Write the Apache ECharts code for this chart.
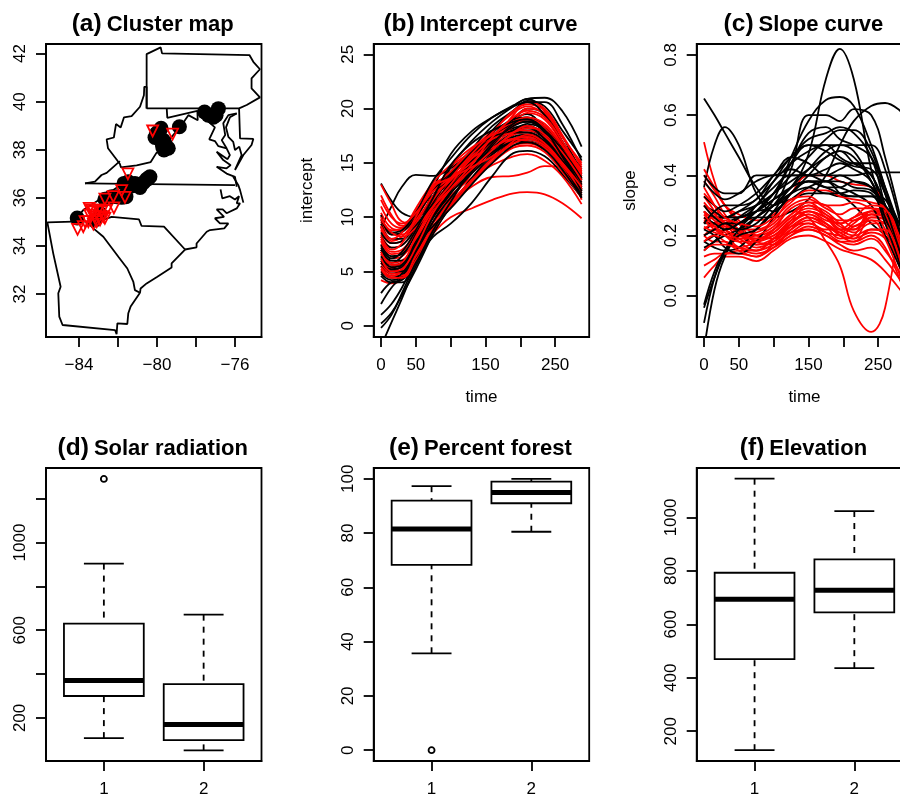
<!DOCTYPE html>
<html><head><meta charset="utf-8">
<script src="https://cdn.jsdelivr.net/npm/echarts@6/dist/echarts.min.js"></script>
<style>html,body{margin:0;padding:0;background:#fff}#c{width:900px;height:796px}</style>
</head><body><div id="c"></div>
<script>
// ---------- (a) map: state outlines, lon/lat ----------
const paBorder=[[-80.53,39.72],[-80.53,41.98],[-79.81,42.26],[-79.74,42.01],[-75.26,41.94],[-75.06,41.66],[-74.72,41.35],[-75.15,40.97],[-75.15,40.55],[-74.72,40.18],[-75.40,39.86],[-75.79,39.72],[-80.53,39.72]];
const wvBorder=[[-80.53,39.72],[-80.53,40.62],[-80.65,40.62],[-80.67,40.27],[-80.87,39.79],[-81.30,39.40],[-81.69,39.35],[-81.86,38.93],[-82.10,39.07],[-82.21,38.51],[-82.58,38.43],[-82.51,38.06],[-82.15,37.68],[-81.90,37.41],[-81.85,37.27],[-81.04,37.35],[-80.32,37.49],[-80.02,37.88],[-79.54,38.13],[-79.25,38.54],[-78.82,38.93],[-78.39,39.44],[-77.91,39.23],[-77.93,39.62],[-79.47,39.33],[-79.50,39.72]];
const vaKyBorder=[[-81.90,37.53],[-82.58,37.04],[-82.84,36.95],[-83.18,36.67],[-83.69,36.60]];
const vaNcBorder=[[-83.69,36.60],[-76.00,36.53]];
const potomac=[[-77.93,39.62],[-77.45,39.23],[-77.03,38.93],[-77.32,38.43],[-77.03,38.36],[-76.85,38.15],[-76.43,38.06],[-76.26,37.78],[-76.38,37.61],[-76.94,37.92],[-76.60,37.57],[-76.22,37.36],[-76.43,37.23],[-76.94,37.29],[-76.43,37.01],[-76.00,36.87],[-75.91,36.46]];
const delmarva=[[-75.91,39.51],[-76.26,39.35],[-76.46,38.93],[-76.34,38.54],[-76.09,38.33],[-76.00,37.99],[-75.78,38.13],[-75.66,37.78],[-76.00,37.16],[-75.57,37.78],[-75.15,38.20],[-75.06,38.45],[-75.74,38.47],[-75.79,39.72]];
const mdWestShore=[[-75.91,39.51],[-76.34,39.44],[-76.60,39.10],[-76.50,38.61],[-76.68,38.40],[-76.43,38.06]];
const outerBanks=[[-76.09,36.88],[-75.83,36.53],[-75.74,36.32],[-75.57,35.80]];
const ncCoast=[[-76.74,36.35],[-76.65,35.98],[-76.26,36.07],[-76.00,35.93],[-75.79,36.07],[-75.91,35.77],[-75.74,35.77],[-75.91,35.56],[-76.43,35.36],[-76.63,35.52],[-76.94,35.52],[-76.56,35.21],[-77.03,35.15],[-76.77,34.94],[-76.34,34.94],[-76.55,34.73],[-77.28,34.66],[-77.45,34.59],[-77.97,34.10],[-77.97,33.94],[-78.56,33.85]];
const scCoast=[[-78.56,33.85],[-79.25,33.27],[-79.25,33.10],[-79.98,32.72],[-80.53,32.44],[-80.84,32.23],[-80.87,32.05]];
const ncScBorder=[[-78.56,33.85],[-79.64,34.80],[-80.79,34.83],[-80.92,35.10],[-82.32,35.21],[-83.10,35.00]];
const scGaBorder=[[-83.61,35.01],[-83.26,34.73],[-82.75,34.38],[-81.98,33.55],[-81.52,33.06],[-81.21,32.50],[-81.13,32.16],[-80.87,32.05]];
const gaBorder=[[-83.61,35.01],[-84.29,35.01],[-85.62,34.98],[-85.32,33.69],[-84.94,32.30],[-85.06,32.03],[-85.01,31.06],[-84.84,30.71],[-82.15,30.50],[-82.07,30.33],[-82.03,30.78],[-81.52,30.75],[-81.47,31.20],[-81.35,31.48],[-80.87,32.05]];
const ncWest=[[-84.29,35.01],[-83.78,35.49],[-82.92,35.94],[-81.81,36.57]];
const mapLines=[paBorder,wvBorder,vaKyBorder,vaNcBorder,potomac,delmarva,mdWestShore,outerBanks,ncCoast,scCoast,ncScBorder,scGaBorder,gaBorder,ncWest];
// sites by cluster
const cluster1Sites=[[-77.56,39.57],[-77.37,39.44],[-77.11,39.35],[-76.97,39.44],[-76.85,39.71],[-78.85,38.96],[-79.79,38.89],[-80.02,38.68],[-80.10,38.51],[-79.88,38.54],[-79.93,38.75],[-79.68,38.40],[-79.59,38.26],[-79.76,38.33],[-79.71,38.13],[-79.42,38.06],[-79.64,37.99],[-81.69,36.60],[-81.47,36.67],[-81.30,36.49],[-81.13,36.60],[-80.87,36.43],[-80.70,36.63],[-80.53,36.77],[-80.36,36.88],[-80.44,36.81],[-81.04,36.53],[-81.59,36.05],[-81.81,36.02],[-82.07,36.05],[-82.32,36.05],[-82.67,35.94],[-84.09,35.16],[-83.18,35.08],[-82.92,35.35]];
const cluster2Sites=[[-80.22,38.78],[-79.20,38.65],[-81.49,37.00],[-81.81,36.30],[-81.64,36.02],[-82.24,36.05],[-82.67,35.95],[-82.21,35.58],[-83.47,35.56],[-83.26,35.42],[-83.35,35.49],[-83.01,35.49],[-82.58,35.49],[-82.84,35.42],[-83.18,35.22],[-83.44,35.28],[-82.75,35.22],[-82.92,35.08],[-83.26,34.91],[-83.52,35.01],[-83.78,34.80],[-84.07,34.69],[-83.09,35.01],[-82.67,35.15],[-83.69,35.01]];

// ---------- (b) intercept curves ----------
const interceptTimes=[0,15,30,50,75,100,130,160,190,210,235,260,288];
const interceptBlack=[
[13.1,11.5,10.4,10.0,11.8,13.8,15.5,17.0,18.5,19.0,18.0,16.0,12.5],
[9.0,11.0,12.8,13.9,13.8,14.5,16.0,17.5,19.0,19.5,18.0,16.0,13.0],
[5.2,5.0,5.6,8.0,12.6,15.8,17.9,19.2,20.3,20.9,21.0,19.8,16.5],
[-1.9,0.3,2.5,5.5,8.5,11.0,13.5,15.5,17.0,17.5,16.8,15.0,12.0],
[0.2,1.2,2.8,5.2,8.5,11.5,14.5,17.0,19.0,20.0,19.5,17.0,13.5],
[-0.2,1.0,3.0,6.0,11.0,14.6,17.0,18.8,20.2,20.9,19.8,17.5,14.0],
[1.0,2.0,3.5,6.0,8.2,9.4,11.3,13.8,15.9,16.1,15.6,14.0,11.8],
[2.0,3.5,4.5,6.2,10.2,13.6,16.2,18.4,19.8,20.7,20.2,18.0,15.5],
[3.0,4.0,4.2,5.8,8.6,11.0,13.6,15.8,17.6,18.0,17.2,15.4,12.6],
[4.8,4.2,4.6,6.6,9.6,12.2,14.6,16.4,17.8,18.2,17.4,15.6,13.0],
[5.5,4.8,5.2,7.2,10.2,12.6,15.0,16.8,18.2,18.4,17.6,15.8,12.8],
[6.2,5.6,5.8,7.8,10.6,13.0,15.2,17.0,18.0,18.6,18.0,16.2,13.4],
[6.8,5.8,6.4,8.4,11.0,13.2,15.4,17.0,18.4,18.8,18.2,16.4,13.6],
[7.5,6.4,6.6,8.6,11.4,13.6,15.8,17.2,18.0,18.2,17.2,15.2,12.2],
[8.2,7.2,7.4,9.0,11.6,13.8,16.0,17.6,18.6,18.8,17.8,15.8,12.6],
[9.4,8.0,8.0,9.4,12.0,14.0,16.2,17.4,17.8,17.8,17.0,15.0,11.8],
[10.2,8.4,8.6,10.0,12.4,14.2,16.0,17.8,19.0,19.2,18.4,16.4,13.8],
[6.0,5.0,5.0,7.0,10.0,12.4,15.2,18.0,19.8,20.6,20.6,18.6,15.2],
[5.0,4.4,4.8,6.8,9.6,11.8,14.0,15.8,17.0,17.2,16.6,15.0,12.4],
[7.0,6.0,6.0,7.6,10.4,12.8,14.6,16.2,17.4,17.6,16.8,15.2,12.8],
[8.6,7.6,7.8,9.2,11.2,12.6,14.4,16.0,16.9,17.0,16.4,14.8,12.0],
[6.4,5.4,5.6,7.4,10.0,12.2,14.2,16.6,18.6,19.0,17.8,15.8,13.2],
[9.8,8.6,8.8,10.4,13.4,15.4,17.6,19.2,20.2,20.6,19.4,17.0,14.4],
[4.6,4.0,4.0,5.8,8.8,11.4,14.4,16.8,18.4,18.8,18.0,16.2,13.6],
[7.2,6.2,6.8,8.8,11.8,14.8,16.8,18.0,18.8,19.0,18.0,15.6,12.4],
[5.8,5.2,5.4,7.4,9.2,10.8,13.0,15.0,16.6,16.9,16.2,14.4,11.8]];
const interceptRed=[
[4.2,3.9,4.3,6.2,8.5,10.0,10.8,11.6,12.2,12.3,12.1,11.3,9.9],
[5.0,4.6,5.0,7.0,9.5,11.2,12.8,13.7,13.8,14.1,14.7,14.6,11.6],
[6.0,5.4,5.8,7.6,10.2,12.0,13.6,14.8,15.6,15.8,15.2,13.8,11.2],
[13.0,11.2,9.6,9.4,11.0,12.6,14.4,16.0,17.2,17.4,16.6,15.0,12.4],
[12.0,10.2,9.2,9.8,12.0,14.6,16.0,17.4,18.8,19.2,18.2,16.2,13.4],
[11.0,9.4,9.0,10.0,12.6,14.0,15.2,16.6,18.0,18.4,17.6,15.8,13.0],
[10.4,9.0,8.8,10.2,13.0,13.8,14.8,16.0,17.2,17.6,16.8,15.2,12.6],
[9.6,8.4,8.4,9.6,11.8,13.2,15.0,17.0,19.4,20.6,20.0,17.6,14.6],
[9.0,7.8,8.2,9.8,12.4,13.8,15.6,17.2,18.8,20.0,19.6,17.4,14.8],
[8.4,7.2,7.4,9.0,11.4,13.0,15.0,16.8,18.6,19.6,19.0,16.8,14.0],
[8.0,6.8,7.0,8.4,10.8,12.8,15.2,17.0,18.0,18.0,17.4,15.6,13.2],
[7.4,6.2,6.4,8.0,10.6,12.4,14.4,16.2,17.6,17.8,17.0,15.4,12.8],
[7.0,5.8,6.0,7.4,10.0,11.8,14.0,15.8,17.0,17.4,16.8,15.0,12.2],
[6.6,5.2,5.4,7.0,9.6,11.4,13.4,15.4,16.6,16.8,16.2,14.6,12.0],
[5.8,4.8,5.0,6.6,9.2,11.0,13.2,15.0,16.4,16.6,16.0,14.2,11.8],
[5.4,4.6,4.6,6.4,9.0,11.6,14.0,16.6,18.6,19.0,18.2,16.0,13.6],
[10.0,8.8,9.0,10.6,12.8,14.2,16.2,18.0,19.6,20.2,19.4,17.0,14.2],
[9.2,8.0,8.6,10.8,13.2,14.8,16.4,17.6,18.8,19.2,18.6,16.6,13.8],
[8.8,7.6,7.8,9.4,12.0,13.4,15.4,17.2,17.8,18.2,18.0,16.2,14.0],
[7.8,6.6,6.8,8.8,11.6,13.6,15.8,17.8,19.8,20.4,19.8,17.4,15.0],
[6.8,5.6,5.8,8.2,11.0,13.0,15.4,16.4,17.2,17.0,16.4,14.8,12.4],
[5.2,4.4,4.4,6.0,8.8,11.2,13.4,15.2,17.0,17.6,16.8,15.0,12.6],
[11.6,10.0,9.4,10.4,12.4,13.6,15.0,16.8,18.4,19.0,18.4,16.6,14.4],
[9.8,8.6,8.2,9.0,11.0,12.6,14.4,16.2,17.8,18.4,17.6,16.0,13.4],
[8.2,7.0,7.6,10.0,12.8,13.6,14.6,15.6,16.8,17.2,16.6,15.0,12.8],
[6.2,5.0,5.2,7.2,10.4,12.6,14.8,17.4,19.2,19.8,19.2,17.0,14.2]];

// ---------- (c) slope curves ----------
const slopeTimes=[0,15,30,50,75,100,125,150,175,195,215,240,260,288];
const slopeBlack=[
[.22,.24,.26,.26,.28,.32,.36,.47,.72,.82,.72,.42,.28,.08],
[.655,.60,.54,.46,.36,.30,.34,.38,.38,.34,.30,.24,.20,.12],
[.36,.50,.56,.50,.34,.28,.34,.40,.46,.48,.46,.38,.28,.14],
[-.18,.02,.13,.21,.26,.30,.36,.42,.48,.50,.48,.38,.28,.12],
[-.04,.06,.14,.20,.26,.32,.46,.58,.65,.66,.63,.50,.36,.16],
[.18,.20,.22,.24,.26,.26,.28,.32,.40,.50,.58,.63,.64,.60],
[.20,.22,.24,.26,.28,.30,.42,.60,.60,.58,.62,.60,.46,.20],
[.24,.26,.26,.28,.30,.34,.44,.54,.56,.52,.50,.46,.34,.14],
[.16,.18,.22,.26,.30,.34,.40,.46,.52,.55,.55,.48,.34,.14],
[.28,.26,.26,.28,.32,.38,.44,.48,.50,.50,.50,.50,.42,.18],
[.30,.28,.26,.26,.30,.38,.46,.50,.48,.45,.43,.42,.34,.20],
[.33,.30,.28,.30,.34,.40,.46,.44,.40,.42,.44,.40,.30,.16],
[.38,.34,.32,.34,.38,.40,.40,.40,.38,.40,.38,.36,.30,.22],
[.40,.36,.34,.34,.40,.40,.42,.40,.40,.40,.40,.41,.41,.41],
[.24,.24,.22,.24,.28,.32,.36,.38,.36,.34,.33,.33,.32,.14],
[.18,.16,.15,.16,.22,.28,.32,.36,.38,.36,.34,.30,.20,.06],
[.22,.20,.16,.14,.18,.26,.34,.38,.38,.38,.36,.35,.28,.10],
[.15,.18,.20,.22,.26,.30,.32,.34,.34,.33,.33,.33,.26,.10],
[.30,.26,.24,.24,.30,.36,.40,.40,.42,.44,.42,.38,.26,.12],
[-.09,.06,.15,.22,.28,.34,.38,.42,.46,.48,.44,.40,.30,.14],
[-.03,.08,.15,.20,.22,.28,.36,.38,.36,.36,.38,.36,.26,.10],
[.26,.24,.22,.24,.28,.34,.44,.50,.50,.46,.44,.44,.36,.16],
[.20,.22,.24,.22,.24,.30,.34,.36,.34,.34,.35,.34,.24,.06],
[.24,.28,.30,.30,.32,.40,.46,.52,.54,.56,.54,.46,.30,.10]];
const slopeRed=[
[.20,.18,.18,.16,.18,.22,.28,.26,.18,.10,-.05,-.12,-.04,.38],
[.51,.38,.30,.27,.25,.27,.34,.40,.40,.38,.37,.36,.30,.02],
[.06,.10,.13,.13,.115,.15,.19,.20,.18,.155,.14,.12,.08,.0],
[.10,.12,.14,.14,.13,.17,.21,.22,.20,.17,.15,.16,.12,.03],
[.13,.14,.14,.15,.15,.19,.23,.24,.21,.18,.17,.19,.15,.05],
[.42,.36,.30,.24,.18,.17,.22,.26,.24,.21,.19,.21,.19,.08],
[.40,.35,.30,.25,.20,.19,.24,.28,.26,.22,.20,.22,.21,.10],
[.38,.33,.27,.22,.19,.20,.25,.30,.28,.24,.21,.24,.24,.12],
[.36,.30,.24,.21,.20,.22,.27,.31,.30,.26,.23,.26,.26,.14],
[.33,.28,.22,.20,.19,.21,.26,.29,.27,.23,.22,.27,.27,.11],
[.30,.26,.23,.22,.18,.20,.25,.27,.24,.20,.19,.26,.25,.08],
[.28,.24,.24,.22,.17,.18,.23,.26,.23,.19,.20,.28,.28,.13],
[.26,.23,.25,.21,.16,.18,.22,.25,.23,.21,.24,.28,.27,.09],
[.24,.26,.24,.19,.17,.19,.24,.28,.25,.24,.26,.28,.25,.06],
[.22,.24,.22,.18,.15,.17,.21,.24,.22,.22,.25,.27,.22,.04],
[.20,.22,.20,.16,.14,.16,.20,.23,.21,.20,.23,.25,.19,.02],
[.18,.20,.18,.15,.13,.16,.20,.22,.20,.18,.18,.20,.16,.01],
[.28,.25,.22,.20,.21,.24,.30,.32,.29,.27,.29,.29,.28,.15],
[.31,.27,.24,.22,.22,.25,.32,.33,.30,.30,.31,.29,.27,.11],
[.25,.22,.20,.19,.20,.23,.29,.31,.27,.25,.25,.27,.26,.07],
[.34,.30,.26,.24,.23,.26,.31,.35,.35,.33,.32,.31,.29,.10],
[.23,.21,.20,.18,.18,.22,.27,.30,.26,.22,.22,.25,.24,.06],
[.15,.17,.17,.16,.15,.19,.24,.27,.24,.20,.18,.22,.22,.05],
[.27,.23,.21,.19,.19,.21,.26,.28,.26,.24,.26,.30,.29,.12]];

// ---------- (d,e,f) box summaries: [cluster, low, q1, median, q3, high] ----------
const solarBox=[[1,108,300,371,630,904],[2,52,99,170,354,671]];
const solarOutliers=[[1,1290]];
const forestBox=[[1,35.7,68.3,81.5,92,97.3],[2,80.5,91,95,99,100]];
const forestOutliers=[[1,0]];
const elevBox=[[1,129,470,694,793,1145],[2,436,645,728,843,1024]];

// tick labels
const mapLonTicks=[-84,-82,-80,-78,-76], mapLonLabels=[-84,-80,-76];
const mapLatTicks=[32,34,36,38,40,42];
const timeTicks=[0,50,100,150,200,250], timeLabels=[0,50,150,250];
const interceptTicks=[0,5,10,15,20,25];
const slopeTicks=[0,0.2,0.4,0.6,0.8];
const solarTicks=[200,400,600,800,1000,1200], solarLabels=[200,600,1000];
const forestTicks=[0,20,40,60,80,100];
const elevTicks=[200,400,600,800,1000];
const clusterTicks=[1,2];

const FONT='"Liberation Sans",Arial,sans-serif';
const lw=1.8, plotW=215.5, plotH=293;
const lefts=[46,373.7,696.7], tops=[44,468];
const plain=v=>String(v).replace('-','\u2212');
const panels=[
 {t:'(a)',n:'Cluster map',c:0,r:0,x:[-85.69,-74.64],y:[30.21,42.4],xt:mapLonTicks,xl:mapLonLabels,yt:mapLatTicks,yl:mapLatTicks},
 {t:'(b)',n:'Intercept curve',c:1,r:0,x:[-10.5,298.9],y:[-1.04,25.95],xt:timeTicks,xl:timeLabels,yt:interceptTicks,yl:interceptTicks,xn:'time',yn:'intercept'},
 {t:'(c)',n:'Slope curve',c:2,r:0,x:[-10.5,298.9],y:[-0.137,0.836],xt:timeTicks,xl:timeLabels,yt:slopeTicks,yl:slopeTicks,xn:'time',yn:'slope',yf:v=>v.toFixed(1)},
 {t:'(d)',n:'Solar radiation',c:0,r:1,x:[0.42,2.58],y:[3.6,1340],xt:clusterTicks,xl:clusterTicks,yt:solarTicks,yl:solarLabels},
 {t:'(e)',n:'Percent forest',c:1,r:1,x:[0.42,2.58],y:[-4,104],xt:clusterTicks,xl:clusterTicks,yt:forestTicks,yl:forestTicks},
 {t:'(f)',n:'Elevation',c:2,r:1,x:[0.42,2.58],y:[88.6,1185],xt:clusterTicks,xl:clusterTicks,yt:elevTicks,yl:elevTicks}
];
const nameStyle={color:'#000',fontFamily:FONT,fontSize:17};
const axisBase=(min,max,ticks,labels,extra)=>Object.assign({
  type:'value',min,max,splitLine:{show:false},
  axisLine:{show:true,onZero:false,lineStyle:{color:'#000',width:lw}},
  axisTick:{show:true,length:10,customValues:ticks,lineStyle:{color:'#000',width:lw}},
  axisLabel:{customValues:labels,color:'#000',fontFamily:FONT,fontSize:17,margin:20,hideOverlap:false,showMinLabel:true,showMaxLabel:true,formatter:plain}
},extra||{});
const grid=[],xAxis=[],yAxis=[],title=[];
panels.forEach((p,i)=>{
  grid.push({left:lefts[p.c],top:tops[p.r],width:plotW,height:plotH,show:true,borderColor:'#000',borderWidth:lw,backgroundColor:'transparent',outerBoundsMode:'none'});
  const xa=axisBase(p.x[0],p.x[1],p.xt,p.xl,{gridIndex:i,position:'bottom'});
  if(p.xn)Object.assign(xa,{name:p.xn,nameLocation:'middle',nameGap:52,nameTextStyle:nameStyle});
  const ya=axisBase(p.y[0],p.y[1],p.yt,p.yl,{gridIndex:i,position:'left'});
  ya.axisLabel=Object.assign({},ya.axisLabel,{rotate:90,margin:17});
  if(p.yf)ya.axisLabel.formatter=p.yf;
  if(p.yn)Object.assign(ya,{name:p.yn,nameLocation:'middle',nameGap:58,nameTextStyle:nameStyle});
  xAxis.push(xa);yAxis.push(ya);
  title.push({text:'{a|'+p.t+'}{b|'+p.n+'}',left:lefts[p.c]+plotW/2-6,top:tops[p.r]-37,textAlign:'center',
    textStyle:{rich:{a:{fontFamily:FONT,fontWeight:'bold',fontSize:24.5,color:'#000',padding:[0,5,0,0]},b:{fontFamily:FONT,fontWeight:'bold',fontSize:22,color:'#000'}}}});
});

const series=[];
// map outlines + sites
mapLines.forEach(l=>series.push({type:'line',xAxisIndex:0,yAxisIndex:0,data:l,showSymbol:false,silent:true,animation:false,
  lineStyle:{color:'#000',width:lw},z:2}));
series.push({type:'scatter',xAxisIndex:0,yAxisIndex:0,data:cluster1Sites,symbol:'circle',symbolSize:15,itemStyle:{color:'#000',opacity:1},animation:false,z:3});
series.push({type:'scatter',xAxisIndex:0,yAxisIndex:0,data:cluster2Sites,symbol:'triangle',symbolRotate:180,symbolSize:11,
  itemStyle:{color:'rgba(0,0,0,0)',borderColor:'#f00',borderWidth:1.8,opacity:1},animation:false,z:4});
// curves, black and red interleaved
function addCurves(idx,times,black,red){
  const n=Math.max(black.length,red.length);
  const add=(vals,color)=>series.push({type:'line',xAxisIndex:idx,yAxisIndex:idx,smooth:0.4,showSymbol:false,animation:false,silent:true,clip:true,
    data:times.map((t,j)=>[t,vals[j]]),lineStyle:{color,width:1.8},z:2});
  for(let i=0;i<n;i++){ if(black[i])add(black[i],'#000'); if(red[i])add(red[i],'#f00'); }
}
addCurves(1,interceptTimes,interceptBlack,interceptRed);
addCurves(2,slopeTimes,slopeBlack,slopeRed);
// box plots
function renderBox(params,api){
  const x=api.value(0),lo=api.value(1),q1=api.value(2),med=api.value(3),q3=api.value(4),hi=api.value(5);
  const P=(a,b)=>api.coord([a,b]);
  const seg=(a,b,style)=>({type:'line',shape:{x1:a[0],y1:a[1],x2:b[0],y2:b[1]},style:Object.assign({stroke:'#000',lineWidth:lw,fill:null},style||{})});
  const tl=P(x-0.4,q3),br=P(x+0.4,q1);
  const dash={lineDash:[6,6]};
  return {type:'group',children:[
    seg(P(x,hi),P(x,q3),dash), seg(P(x,lo),P(x,q1),dash),
    seg(P(x-0.2,hi),P(x+0.2,hi)), seg(P(x-0.2,lo),P(x+0.2,lo)),
    {type:'rect',shape:{x:tl[0],y:tl[1],width:br[0]-tl[0],height:br[1]-tl[1]},style:{stroke:'#000',lineWidth:lw,fill:null}},
    seg(P(x-0.4,med),P(x+0.4,med),{lineWidth:5})
  ]};
}
function addBox(idx,box,outliers){
  series.push({type:'custom',xAxisIndex:idx,yAxisIndex:idx,data:box,renderItem:renderBox,encode:{x:0,y:[1,2,3,4,5]},animation:false,silent:true,z:2});
  if(outliers)series.push({type:'scatter',xAxisIndex:idx,yAxisIndex:idx,data:outliers,symbol:'circle',symbolSize:6,animation:false,
    itemStyle:{color:'rgba(0,0,0,0)',borderColor:'#000',borderWidth:lw,opacity:1},z:3});
}
addBox(3,solarBox,solarOutliers);
addBox(4,forestBox,forestOutliers);
addBox(5,elevBox,null);

const chart=echarts.init(document.getElementById('c'),null,{renderer:'canvas'});
chart.setOption({animation:false,backgroundColor:'#fff',title,grid,xAxis,yAxis,series});
</script>
</body></html>
